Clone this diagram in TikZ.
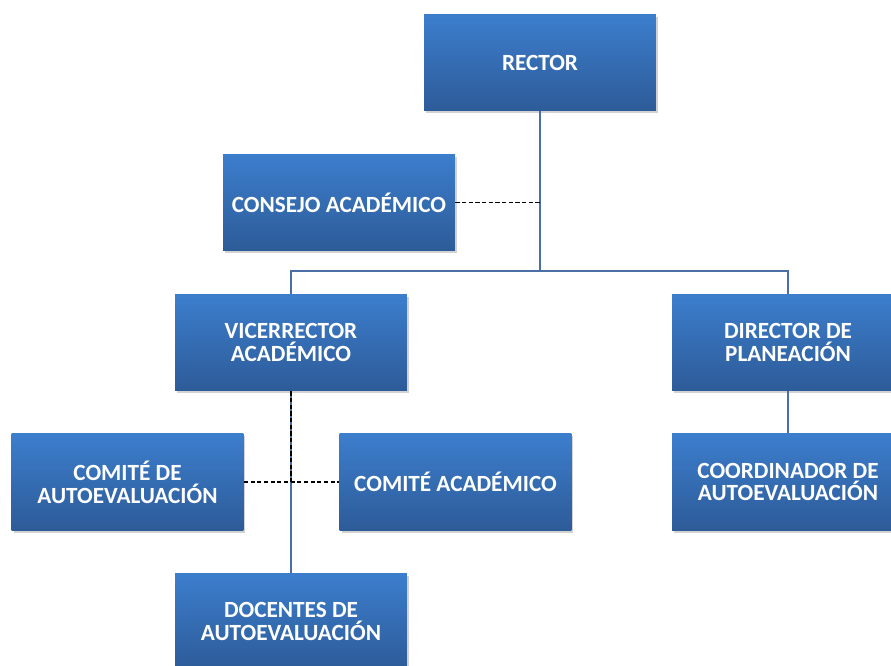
\documentclass[tikz,border=0pt]{standalone}
\usepackage{fontspec}
\setmainfont{Carlito}
\usepackage{tikz}
\usetikzlibrary{shadows}

\definecolor{boxtop}{HTML}{3C7ECD}
\definecolor{boxbot}{HTML}{2D5B98}
\definecolor{linkblue}{HTML}{4A6FA5}

\tikzset{
  box/.style={rectangle, top color=boxtop, bottom color=boxbot, draw=none,
    minimum width=4.64cm, minimum height=1.94cm, text=white, align=center,
    font=\fontsize{13.2}{13}\selectfont\bfseries,
    drop shadow={shadow xshift=0.04cm, shadow yshift=-0.05cm, fill=black!35, opacity=0.5}},
  link/.style={draw=linkblue, line width=1pt},
  dashlink/.style={draw=black, line width=1pt, dash pattern=on 2.4pt off 1.4pt}
}

\begin{document}
\begin{tikzpicture}[x=0.02cm, y=-0.02cm]
  \useasboundingbox (0,0) rectangle (891,665);

  \node[box] (rector)   at (540,62.5)  {RECTOR};
  \node[box] (consejo)  at (339,202.5) {CONSEJO ACADÉMICO};
  \node[box] (vice)     at (291,342.5) {VICERRECTOR\\ACADÉMICO};
  \node[box] (director) at (788,342.5) {DIRECTOR DE\\PLANEACIÓN};
  \node[box] (comiteA)  at (127.5,482) {COMITÉ DE\\AUTOEVALUACIÓN};
  \node[box] (comiteB)  at (455.5,482) {COMITÉ ACADÉMICO};
  \node[box] (coord)    at (788,482)   {COORDINADOR DE\\AUTOEVALUACIÓN};
  \node[box] (docentes) at (291,621.5) {DOCENTES DE\\AUTOEVALUACIÓN};

  \coordinate (bus) at (540,271);
  \coordinate (cj) at (540,202.5);
  \coordinate (vj) at (291,482);

  % solid lines
  \draw[link] (rector.south) -- (bus);
  \draw[link] (vice.north) |- (bus) -| (director.north);
  \draw[link] (vice.south) -- (docentes.north);
  \draw[link] (director.south) -- (coord.north);

  % dashed lines
  \draw[dashlink] (consejo.east) -- (cj);
  \draw[dashlink] (comiteA.east) -- (comiteB.west);
  \draw[dashlink] (vice.south) -- (vj);
\end{tikzpicture}
\end{document}
